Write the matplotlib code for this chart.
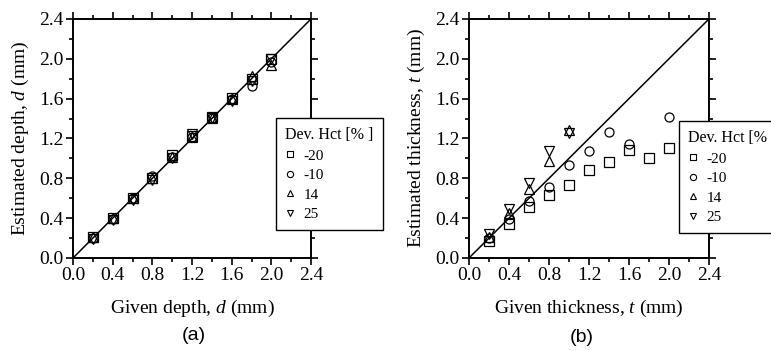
import matplotlib
matplotlib.use("Agg")
import matplotlib.pyplot as plt
from matplotlib.ticker import MultipleLocator, FormatStrFormatter
from matplotlib.lines import Line2D

plt.rcParams['font.family'] = ['Liberation Serif', 'DejaVu Serif']
plt.rcParams['mathtext.fontset'] = 'custom'
plt.rcParams['mathtext.rm'] = 'Liberation Serif'
plt.rcParams['mathtext.it'] = 'Liberation Serif:italic'

# ---- data ----
given = [0.2, 0.4, 0.6, 0.8, 1.0, 1.2, 1.4, 1.6, 1.8, 2.0]
series_labels = ['-20', '-10', '14', '25']

depth_m20 = [0.21, 0.40, 0.60, 0.80, 1.03, 1.22, 1.42, 1.61, 1.80, 2.00]
depth_m10 = [0.20, 0.39, 0.60, 0.82, 1.01, 1.21, 1.41, 1.60, 1.73, 1.97]
depth_p14 = [0.21, 0.40, 0.60, 0.80, 1.01, 1.21, 1.41, 1.60, 1.83, 1.94]
depth_p25 = [0.19, 0.38, 0.58, 0.78, 1.00, 1.24, 1.41, 1.58, 1.78, 2.00]

thick_m20_x = [0.2, 0.4, 0.6, 0.8, 1.0, 1.2, 1.4, 1.6, 1.8, 2.0]
thick_m20 = [0.17, 0.34, 0.51, 0.63, 0.73, 0.88, 0.96, 1.08, 1.00, 1.10]
thick_m10_x = [0.2, 0.4, 0.6, 0.8, 1.0, 1.2, 1.4, 1.6, 2.0]
thick_m10 = [0.20, 0.39, 0.57, 0.71, 0.93, 1.07, 1.26, 1.14, 1.42]
thick_p14_x = [0.2, 0.4, 0.6, 0.8, 1.0]
thick_p14 = [0.21, 0.45, 0.69, 0.97, 1.28]
thick_p25_x = [0.2, 0.4, 0.6, 0.8, 1.0]
thick_p25 = [0.24, 0.49, 0.75, 1.07, 1.25]

ideal = [0.0, 2.4]

markers = ['s', 'o', '^', 'v']

fig = plt.figure(figsize=(7.71, 3.5), dpi=100)
axA = fig.add_axes([0.0947, 0.2629, 0.3087, 0.683])
axB = fig.add_axes([0.6083, 0.2629, 0.3113, 0.683])

def style(ax):
    ax.set_xlim(0, 2.4)
    ax.set_ylim(0, 2.4)
    ax.xaxis.set_major_locator(MultipleLocator(0.4))
    ax.yaxis.set_major_locator(MultipleLocator(0.4))
    ax.xaxis.set_minor_locator(MultipleLocator(0.2))
    ax.yaxis.set_minor_locator(MultipleLocator(0.2))
    ax.xaxis.set_major_formatter(FormatStrFormatter('%.1f'))
    ax.yaxis.set_major_formatter(FormatStrFormatter('%.1f'))
    ax.tick_params(which='both', direction='out', top=True, right=True,
                   width=1.2, labelsize=14, pad=1.5)
    ax.tick_params(which='major', length=5)
    ax.tick_params(which='minor', length=3)
    for s in ax.spines.values():
        s.set_linewidth(1.4)

def legend(ax, anchor):
    handles = [Line2D([], [], ls='none', marker=m, mfc='none', mec='black',
                      ms=4.5, mew=0.8) for m in markers]
    lg = ax.legend(handles, series_labels, title='Dev. Hct [% ]',
                   loc='upper left', bbox_to_anchor=anchor,
                   fontsize=11, title_fontsize=11.5, frameon=True,
                   fancybox=False, edgecolor='black', framealpha=1,
                   handlelength=0.6, handletextpad=0.6, labelspacing=0.38,
                   borderpad=0.6, borderaxespad=0)
    lg._legend_box.align = 'left'
    lg.get_frame().set_linewidth(1.0)
    lg.set_zorder(10)
    return lg

# (a)
style(axA)
axA.plot(ideal, ideal, color='black', lw=1.1, zorder=1)
for ys, m in zip([depth_m20, depth_m10, depth_p14, depth_p25], markers):
    axA.plot(given, ys, ls='none', marker=m, mfc='none', mec='black',
             ms=6.5, mew=0.9, zorder=3, clip_on=False)
axA.set_xlabel('Given depth, $d$ (mm)', fontsize=14, labelpad=10)
axA.set_ylabel('Estimated depth, $d$ (mm)', fontsize=14, labelpad=6)
legend(axA, (0.853, 0.586))

# (b)
style(axB)
axB.plot(ideal, ideal, color='black', lw=1.1, zorder=1)
for xs, ys, m in zip([thick_m20_x, thick_m10_x, thick_p14_x, thick_p25_x],
                     [thick_m20, thick_m10, thick_p14, thick_p25], markers):
    axB.plot(xs, ys, ls='none', marker=m, mfc='none', mec='black',
             ms=6.5, mew=0.9, zorder=3, clip_on=False)
axB.set_xlabel('Given thickness, $t$ (mm)', fontsize=14, labelpad=10)
axB.set_ylabel('Estimated thickness, $t$ (mm)', fontsize=14, labelpad=6)
legend(axB, (0.875, 0.573))

fig.text(194 / 771, 1 - 336 / 350, '(a)', family='Liberation Sans', fontsize=14,
         ha='center', va='center')
fig.text(582 / 771, 1 - 337 / 350, '(b)', family='Liberation Sans', fontsize=14,
         ha='center', va='center')

fig.savefig('out.png', dpi=100)
